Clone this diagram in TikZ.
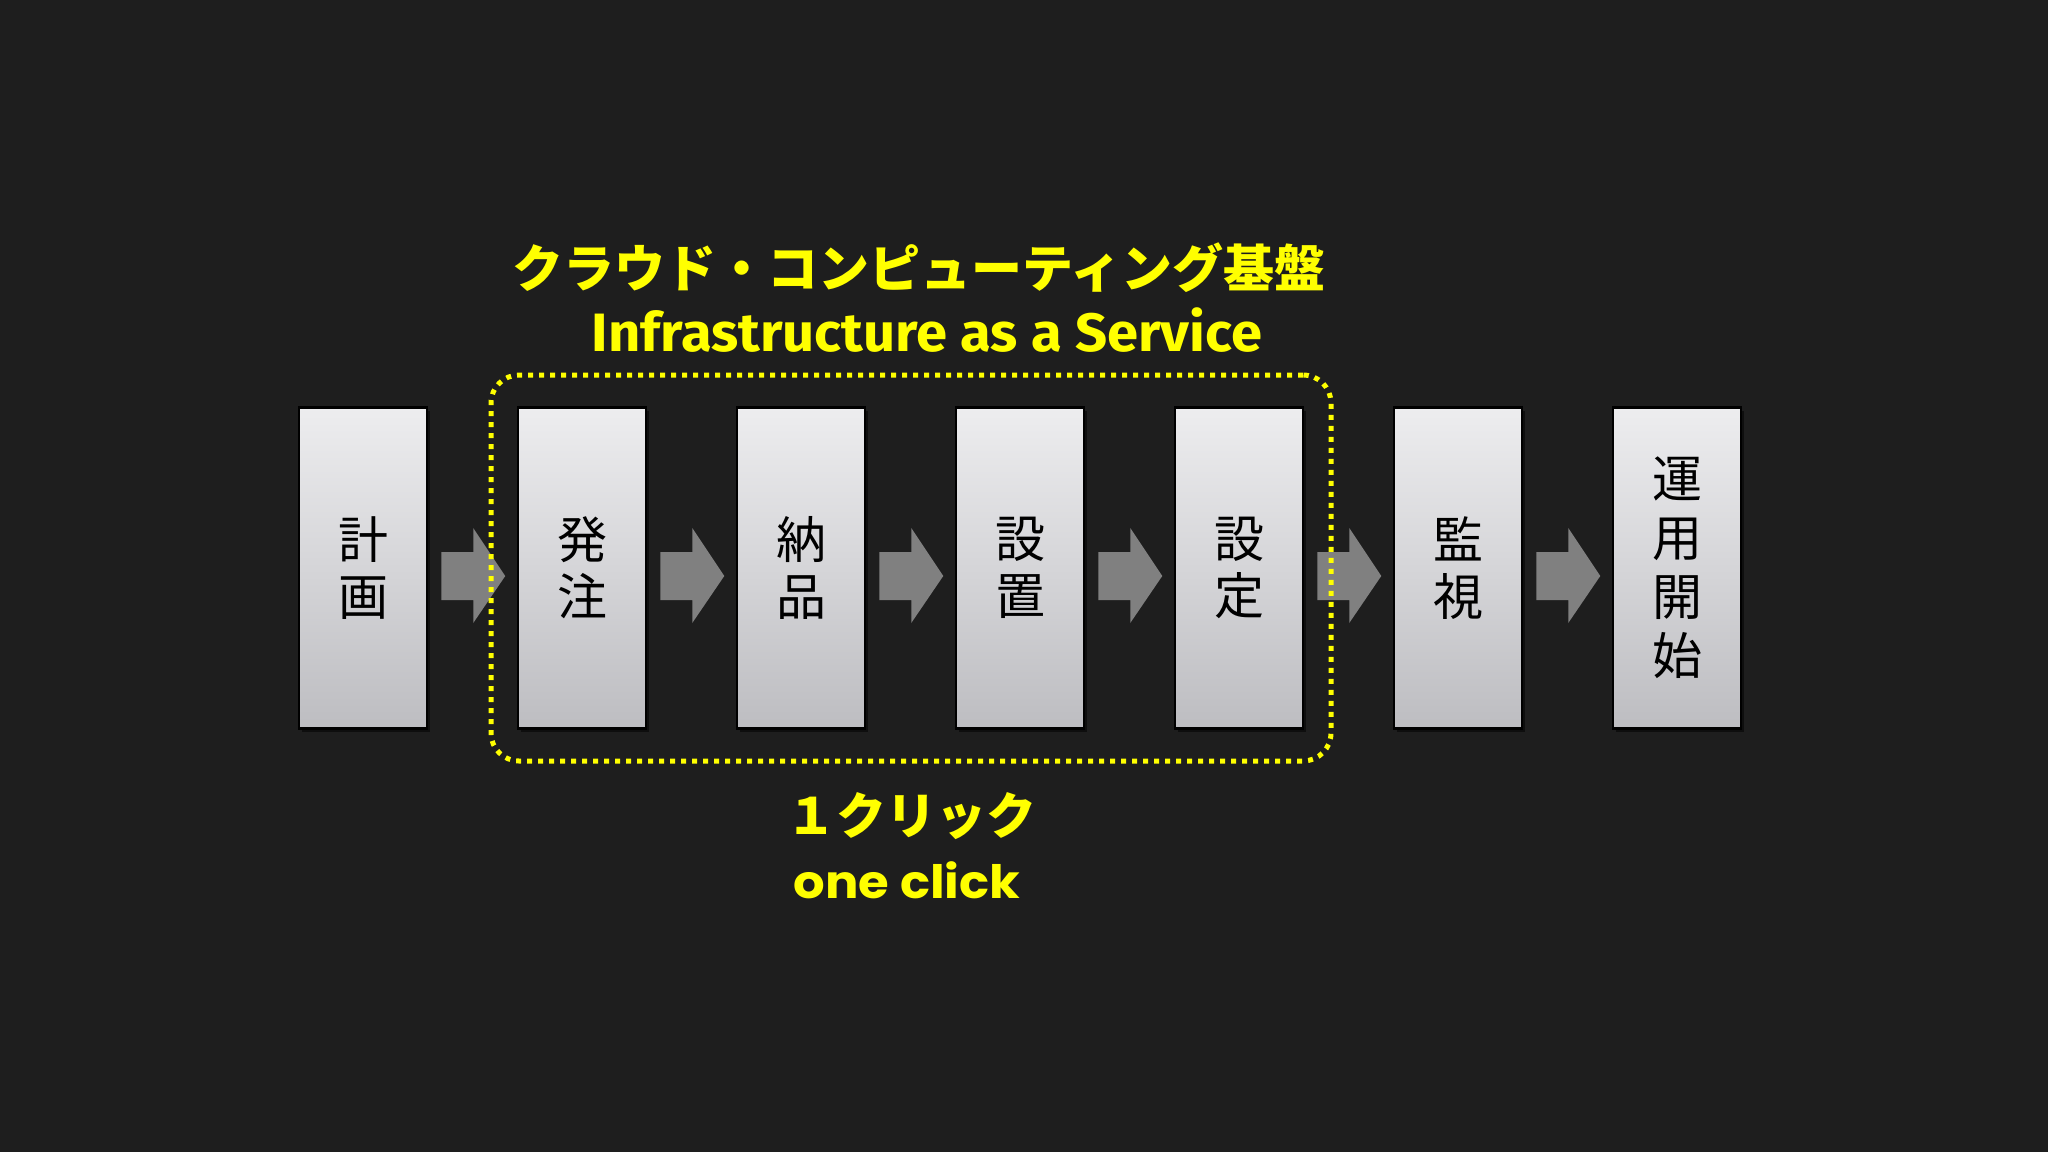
\documentclass[tikz,border=0pt]{standalone}
\usepackage{fontspec}
\newfontfamily\cjk{Noto Sans CJK JP}
\newfontfamily\latb[FakeStretch=1.04]{Fira Sans}
\newfontfamily\popb[FakeStretch=1.08]{Poppins}
\usetikzlibrary{shadows,calc}
\definecolor{bg}{HTML}{1E1E1E}
\definecolor{ylw}{HTML}{FFFF00}
\definecolor{boxtop}{HTML}{EDEDEF}
\definecolor{boxbot}{HTML}{BDBDC1}
\definecolor{arrowgray}{HTML}{808080}
\tikzset{
  stepbox/.style={draw=black, line width=2.5pt, minimum width=128pt, minimum height=321pt,
    inner sep=0pt, top color=boxtop, bottom color=boxbot, align=center,
    font=\cjk\fontsize{50}{57}\selectfont, text=black,
    drop shadow={shadow xshift=3pt, shadow yshift=-3pt, opacity=0.5, fill=black}},
  blockarrow/.style={fill=arrowgray, draw=none},
  dotbox/.style={draw=ylw, line width=5pt, dash pattern=on 5pt off 6pt, rounded corners=28pt,
    minimum width=840pt, minimum height=386pt, inner sep=0pt},
  ytext/.style={text=ylw, inner sep=0pt}
}
\begin{document}
\begin{tikzpicture}[x=1pt,y=-1pt]
\fill[bg] (0,0) rectangle (2048,1152);
\useasboundingbox (0,0) rectangle (2048,1152);

\node[stepbox] (b1) at (363,568) {計\\画};
\node[stepbox] (b2) at (582,568) {発\\注};
\node[stepbox] (b3) at (801,568) {納\\品};
\node[stepbox] (b4) at (1020,568) {設\\置};
\node[stepbox] (b5) at (1239,568) {設\\定};
\node[stepbox] (b6) at (1458,568) {監\\視};
\node[stepbox, font=\cjk\fontsize{50}{59}\selectfont] (b7) at (1677,568) {運\\用\\開\\始};

\foreach \a in {b1,b2,b3,b4,b5,b6}{
  \fill[blockarrow] ($(\a.east)+(13,-16)$) -- ($(\a.east)+(45,-16)$) -- ($(\a.east)+(45,-40)$)
    -- ($(\a.east)+(77,8)$) -- ($(\a.east)+(45,55)$) -- ($(\a.east)+(45,32)$)
    -- ($(\a.east)+(13,32)$) -- cycle;
}

\node[dotbox] (iaas) at (911,568) {};

\node[ytext, font=\cjk\bfseries\fontsize{51}{60}\selectfont] (t1) at (919,268) {クラウド・コンピューティング基盤};
\node[ytext, font=\latb\bfseries\fontsize{54}{60}\selectfont, anchor=base] (t2) at (927,351) {Infrastructure as a Service};
\node[ytext, font=\cjk\bfseries\fontsize{50}{60}\selectfont] (t3) at (911,816) {１クリック};
\node[ytext, font=\popb\bfseries\fontsize{46}{50}\selectfont, anchor=base] (t4) at (907,898) {one click};
\end{tikzpicture}
\end{document}
